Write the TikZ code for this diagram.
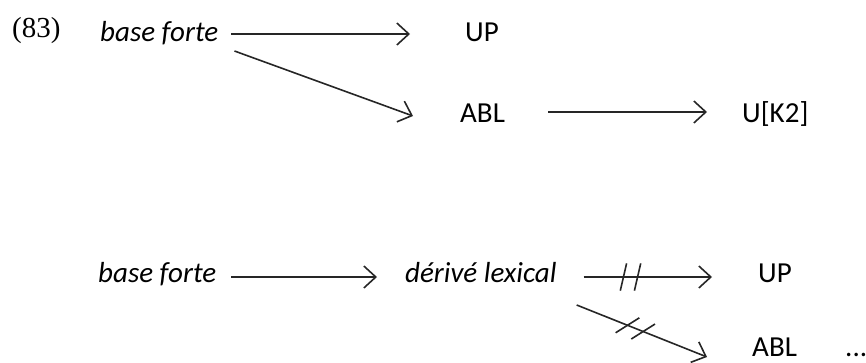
\documentclass[tikz,border=0pt]{standalone}
\usepackage{fontspec}
\setmainfont{Carlito}
\newfontfamily\exfont{Liberation Serif}
\usetikzlibrary{arrows.meta, positioning, decorations.markings}

\begin{document}
\begin{tikzpicture}[x=1pt, y=-1pt, font=\fontsize{29}{34}\selectfont, >={Straight Barb[length=12pt,width=22pt]}]
  % Styles
  \tikzset{
    lbl/.style={anchor=base west, inner sep=0pt, text=black},
    it/.style={lbl, font=\fontsize{29}{34}\selectfont\itshape},
    arrow/.style={->, line width=1.6pt, draw=black!85},
    tick/.style={-, line width=1.6pt, draw=black!85},
    blocked/.style n args={3}{postaction={decorate, decoration={markings,
      mark=at position #1 with {\draw[tick] (#3:14pt) -- (180+#3:14pt);},
      mark=at position #2 with {\draw[tick] (#3:14pt) -- (180+#3:14pt);}}}}
  }
  \useasboundingbox (0,0) rectangle (866,362);

  % Nodes
  \node[lbl, font=\fontsize{29}{34}\selectfont\exfont] (ex) at (12,37) {(83)};
  \node[it] (bf1) at (100,41) {base forte};
  \node[lbl] (up1) at (465,41) {UP};
  \node[lbl] (abl1) at (460,122) {ABL};
  \node[lbl] (uk) at (742,122) {U[K2]};

  \node[it] (bf2) at (98,282) {base forte};
  \node[it] (der) at (405,282) {dérivé lexical};
  \node[lbl] (up2) at (758,282) {UP};
  \node[lbl] (abl2) at (752,356) {ABL};
  \node[lbl] (dots) at (845,356) {...};

  % Arrows
  \draw[arrow] ([xshift=13pt,yshift=7pt]bf1.base east) -- ([xshift=-55pt,yshift=7pt]up1.base west);
  \draw[arrow] ([xshift=16pt,yshift=-10pt]bf1.base east) -- ([xshift=-47pt,yshift=6pt]abl1.base west);
  \draw[arrow] ([xshift=43pt,yshift=10pt]abl1.base east) -- ([xshift=-35pt,yshift=10pt]uk.base west);

  \draw[arrow] ([xshift=15pt,yshift=5pt]bf2.base east) -- ([xshift=-28pt,yshift=5pt]der.base west);
  \draw[arrow, blocked={0.31}{0.42}{77}] ([xshift=27pt,yshift=5pt]der.base east) -- ([xshift=-46pt,yshift=5pt]up2.base west);
  \draw[arrow, blocked={0.39}{0.51}{54}] ([xshift=20pt,yshift=-23pt]der.base east) -- ([xshift=-45pt,yshift=-1pt]abl2.base west);

\end{tikzpicture}
\end{document}
